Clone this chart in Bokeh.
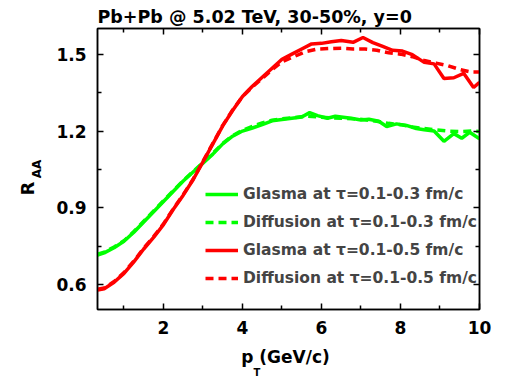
from bokeh.plotting import figure
from bokeh.models import Range1d, LinearAxis, FixedTicker, Legend, LegendItem, Title
from bokeh.embed import file_html
from bokeh.resources import INLINE

# ---------------- data ----------------
title_text = "Pb+Pb @ 5.02 TeV, 30-50%, y=0"
labels = ["Glasma at \u03c4=0.1-0.3 fm/c", "Diffusion at \u03c4=0.1-0.3 fm/c",
          "Glasma at \u03c4=0.1-0.5 fm/c", "Diffusion at \u03c4=0.1-0.5 fm/c"]

x_gs = [0.33, 0.5, 0.75, 1.0, 1.25, 1.5, 1.75, 2.0, 2.25, 2.5, 2.75, 3.0, 3.25, 3.5, 3.75, 4.0,
        4.25, 4.5, 4.75, 5.0, 5.25, 5.5, 5.7, 5.9, 6.15, 6.35, 6.5, 6.75, 7.0, 7.2, 7.45, 7.65,
        7.9, 8.15, 8.4, 8.6, 8.85, 9.1, 9.35, 9.55, 9.75, 10.0]
y_gs = [0.716, 0.725, 0.745, 0.77, 0.805, 0.845, 0.885, 0.925, 0.965, 1.005, 1.04, 1.075, 1.11,
        1.15, 1.18, 1.2, 1.212, 1.225, 1.24, 1.245, 1.25, 1.255, 1.272, 1.26, 1.25, 1.258, 1.255,
        1.25, 1.243, 1.246, 1.238, 1.218, 1.228, 1.222, 1.21, 1.205, 1.2, 1.16, 1.19, 1.172,
        1.195, 1.17]

x_gd = [0.33, 0.5, 0.75, 1.0, 1.25, 1.5, 1.75, 2.0, 2.25, 2.5, 2.75, 3.0, 3.25, 3.5, 3.75, 4.0,
        4.25, 4.5, 4.75, 5.0, 5.3, 5.6, 5.9, 6.2, 6.5, 6.8, 7.1, 7.4, 7.7, 8.0, 8.3, 8.6, 8.9,
        9.2, 9.5, 9.8, 10.0]
y_gd = [0.72, 0.728, 0.748, 0.772, 0.808, 0.848, 0.888, 0.928, 0.968, 1.007, 1.042, 1.077,
        1.113, 1.152, 1.182, 1.203, 1.218, 1.232, 1.242, 1.248, 1.252, 1.258, 1.255, 1.252,
        1.25, 1.248, 1.244, 1.238, 1.23, 1.225, 1.216, 1.21, 1.205, 1.2, 1.198, 1.2, 1.198]

x_rs = [0.33, 0.5, 0.75, 1.0, 1.25, 1.5, 1.75, 2.0, 2.25, 2.5, 2.75, 3.0, 3.25, 3.5, 3.75, 4.0,
        4.25, 4.5, 4.75, 5.0, 5.25, 5.5, 5.75, 6.0, 6.25, 6.5, 6.8, 7.05, 7.3, 7.55, 7.8, 8.05,
        8.3, 8.6, 8.85, 9.1, 9.35, 9.6, 9.85, 10.0]
y_rs = [0.58, 0.585, 0.61, 0.645, 0.69, 0.74, 0.785, 0.835, 0.895, 0.95, 1.01, 1.08, 1.15,
        1.22, 1.28, 1.335, 1.375, 1.41, 1.445, 1.48, 1.5, 1.52, 1.54, 1.542, 1.548, 1.553,
        1.546, 1.565, 1.545, 1.53, 1.515, 1.512, 1.498, 1.468, 1.462, 1.405, 1.408, 1.425,
        1.37, 1.39]

x_rd = [0.33, 0.5, 0.75, 1.0, 1.25, 1.5, 1.75, 2.0, 2.25, 2.5, 2.75, 3.0, 3.25, 3.5, 3.75, 4.0,
        4.25, 4.5, 4.75, 5.0, 5.3, 5.6, 5.9, 6.2, 6.5, 6.8, 7.1, 7.4, 7.7, 8.0, 8.3, 8.6, 8.9,
        9.2, 9.5, 9.8, 10.0]
y_rd = [0.583, 0.588, 0.613, 0.648, 0.693, 0.743, 0.788, 0.838, 0.897, 0.952, 1.012, 1.082,
        1.152, 1.222, 1.282, 1.335, 1.372, 1.405, 1.44, 1.47, 1.49, 1.51, 1.52, 1.522, 1.523,
        1.52, 1.52, 1.515, 1.505, 1.5, 1.49, 1.475, 1.465, 1.455, 1.44, 1.43, 1.43]

x_major = [2, 4, 6, 8, 10]
x_minor = [1, 3, 5, 7, 9]
y_major = [0.6, 0.9, 1.2, 1.5]
y_minor = [0.75, 1.05, 1.35]

# ---------------- figure ----------------
FONT = "DejaVu Sans"
GREEN = "#00ff00"
RED = "#ff0000"

p = figure(width=505, height=382, output_backend="svg", toolbar_location=None,
           x_range=Range1d(0.33, 10), y_range=Range1d(0.504, 1.6),
           min_border_left=97, min_border_right=26, min_border_top=28, min_border_bottom=73)
p.grid.visible = False
p.outline_line_color = "black"
p.outline_line_width = 1.5
p.background_fill_color = "white"
p.border_fill_color = "white"

top_axis = LinearAxis()
right_axis = LinearAxis()
p.add_layout(top_axis, "above")
p.add_layout(right_axis, "right")

for ax in p.xaxis:
    ax.ticker = FixedTicker(ticks=x_major, minor_ticks=x_minor)
for ax in p.yaxis:
    ax.ticker = FixedTicker(ticks=y_major, minor_ticks=y_minor)

for ax in p.xaxis + p.yaxis:
    ax.axis_line_width = 1.5
    ax.major_tick_line_width = 1.5
    ax.minor_tick_line_width = 1.5
    ax.major_tick_in = 6
    ax.major_tick_out = 0
    ax.minor_tick_in = 4
    ax.minor_tick_out = 0
    ax.major_label_text_font = FONT
    ax.major_label_text_font_style = "bold"
    ax.major_label_text_font_size = "17px"
    ax.major_label_text_color = "black"
    ax.major_label_standoff = 11
    ax.axis_label_text_font = FONT
    ax.axis_label_text_font_style = "bold"
    ax.axis_label_text_color = "black"

top_axis.major_label_overrides = {v: "" for v in x_major}
top_axis.major_label_text_font_size = "1px"
top_axis.major_label_standoff = 0
right_axis.major_label_overrides = {v: "" for v in y_major}
right_axis.major_label_text_font_size = "1px"
right_axis.major_label_standoff = 0

# x axis label (the subscript T is a title just below it)
bottom_axis = p.below[0]
bottom_axis.axis_label = "p  (GeV/c)"
bottom_axis.axis_label_text_font_size = "17px"
bottom_axis.axis_label_standoff = 10

# y axis label: subscript AA as the axis label, R as a title further out
left_axis = p.left[0]
left_axis.axis_label = "AA"
left_axis.axis_label_text_font_size = "12px"
left_axis.axis_label_standoff = 9

w = 3.5
r1 = p.line(x_gs, y_gs, line_color=GREEN, line_width=w)
r2 = p.line(x_gd, y_gd, line_color=GREEN, line_width=w, line_dash="8 5")
r3 = p.line(x_rs, y_rs, line_color=RED, line_width=w)
r4 = p.line(x_rd, y_rd, line_color=RED, line_width=w, line_dash="8 5")

legend = Legend(items=[LegendItem(label=labels[0], renderers=[r1]),
                       LegendItem(label=labels[1], renderers=[r2]),
                       LegendItem(label=labels[2], renderers=[r3]),
                       LegendItem(label=labels[3], renderers=[r4])],
                location=(108, 21), padding=0, margin=0, spacing=8,
                glyph_width=33, glyph_height=20, label_height=20, label_standoff=5,
                label_text_font=FONT, label_text_font_style="bold",
                label_text_font_size="15.5px", border_line_color=None,
                background_fill_alpha=0)
p.add_layout(legend)

def title(text, size, place, offset, standoff=0):
    t = Title(text=text, align="left", offset=offset, standoff=standoff,
              text_font=FONT, text_font_style="bold", text_font_size=size,
              text_color="black")
    p.add_layout(t, place)

title(title_text, "17.5px", "above", 0, 4)
title("T", "10px", "below", 156, -10)
title("R", "18px", "left", 114, -20)

open("out.html", "w").write(file_html(p, INLINE))
